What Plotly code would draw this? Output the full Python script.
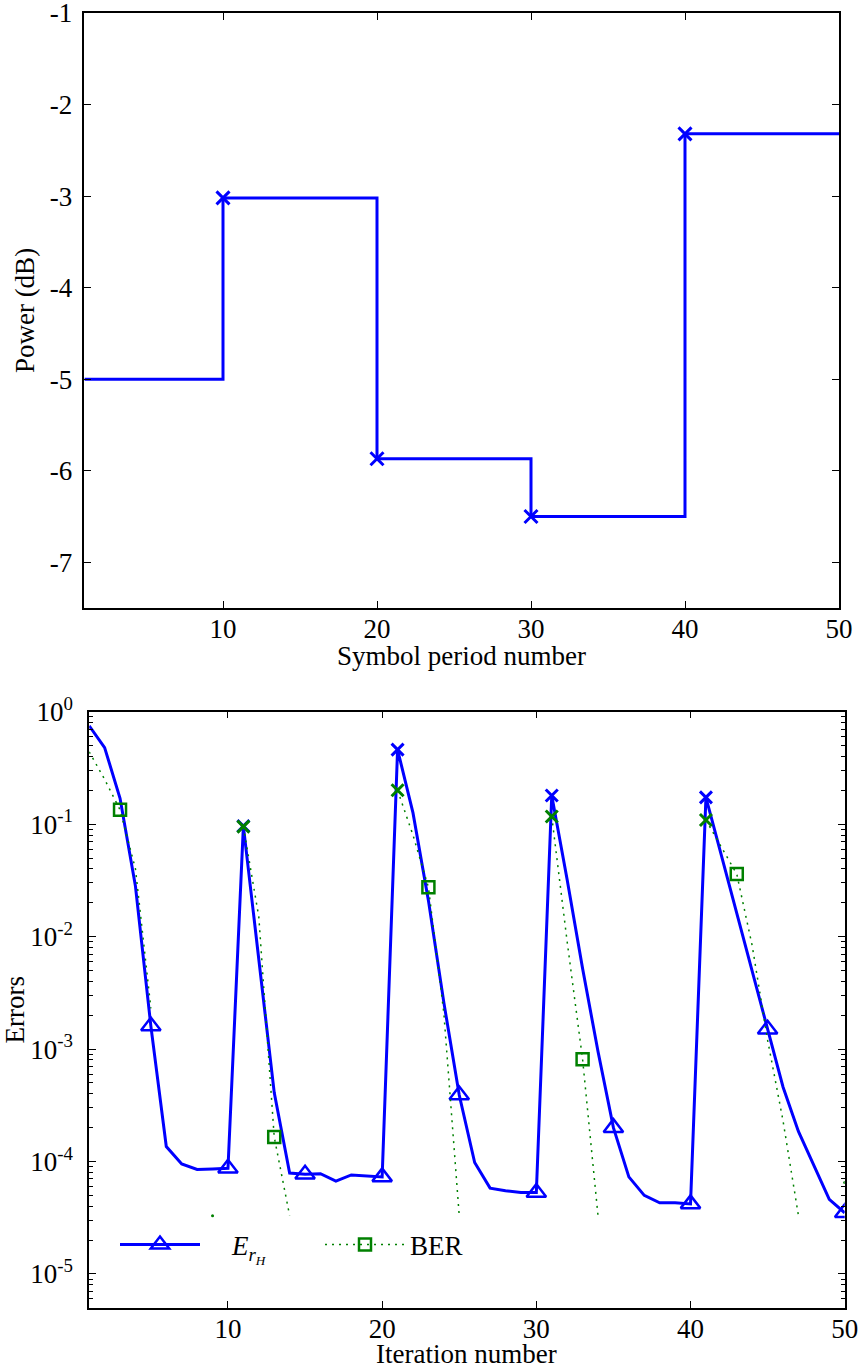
import plotly.graph_objects as go

# ---------------- data: top panel ----------------
symbol_period = [1, 10, 20, 30, 40, 50]
power_db = [-5.0, -3.02, -5.87, -6.5, -2.32, -2.32]
power_marker_periods = [10, 20, 30, 40]
power_yticks = [-7, -6, -5, -4, -3, -2, -1]
power_yticktext = ["-7", "-6", "-5", "-4", "-3", "-2", "-1"]
power_xticks = [10, 20, 30, 40, 50]

# ---------------- data: bottom panel ----------------
iteration = list(range(1, 51))
err_rH = [0.75, 0.48, 0.17, 0.028, 1.6e-3, 1.36e-4, 9.5e-5, 8.5e-5, 8.6e-5, 8.7e-5,
          0.096, 6.6e-3, 4.1e-4, 7.9e-5, 7.7e-5, 7.8e-5, 6.7e-5, 7.6e-5, 7.4e-5, 7.3e-5,
          0.46, 0.126, 0.021, 2.6e-3, 3.9e-4, 9.8e-5, 5.8e-5, 5.5e-5, 5.3e-5, 5.3e-5,
          0.18, 0.032, 5.2e-3, 9.5e-4, 2.0e-4, 7.3e-5, 5.0e-5, 4.3e-5, 4.3e-5, 4.2e-5,
          0.173, 0.053, 0.0165, 5.1e-3, 1.5e-3, 4.6e-4, 1.85e-4, 9.1e-5, 4.6e-5, 3.5e-5]
ber = [0.44, 0.25, 0.134, 0.04, 2.3e-3, 0, 0, 0, 3.3e-5, 0,
       0.095, 0.015, 1.65e-4, 3.3e-5, 0, 0, 0, 0, 0, 0,
       0.2, 0.08, 0.0275, 2.1e-3, 3.3e-5, 0, 0, 0, 0, 0,
       0.117, 9e-3, 8.1e-4, 3.3e-5, 0, 0, 0, 0, 0, 0,
       0.109, 0.063, 0.036, 8.3e-3, 1.2e-3, 2.3e-4, 3.3e-5, 0, 0, 6.5e-5]
triangle_iters = [5, 10, 15, 20, 25, 30, 35, 40, 45, 50]
cross_iters = [11, 21, 31, 41]
square_iters = [3, 13, 23, 33, 43]
err_yticks = [1e-5, 1e-4, 1e-3, 1e-2, 1e-1, 1]
err_yticktext = ["10<sup>-5</sup>", "10<sup>-4</sup>", "10<sup>-3</sup>",
                 "10<sup>-2</sup>", "10<sup>-1</sup>", "10<sup>0</sup>"]
err_xticks = [10, 20, 30, 40, 50]
minor_vals = [m * 10.0 ** e for e in range(-6, 0) for m in range(2, 10)]

BLUE = "rgb(0,0,255)"
GREEN = "rgb(0,128,0)"
FONT = "Liberation Serif"
FS = 27

fig = go.Figure()

# top panel
fig.add_trace(go.Scatter(x=symbol_period, y=power_db, mode="lines", line_shape="hv",
                         line=dict(color=BLUE, width=3), xaxis="x", yaxis="y", showlegend=False))
pm_y = [power_db[symbol_period.index(p)] for p in power_marker_periods]
fig.add_trace(go.Scatter(x=power_marker_periods, y=pm_y, mode="markers",
                         marker=dict(symbol="x-thin", size=13, line=dict(color=BLUE, width=3)),
                         xaxis="x", yaxis="y", showlegend=False))

# bottom panel
def pick(vals, its):
    return [vals[iteration.index(i)] for i in its]

ber_plot = [v if v > 0 else None for v in ber]

fig.add_trace(go.Scatter(x=iteration, y=err_rH, mode="lines", line=dict(color=BLUE, width=3),
                         xaxis="x2", yaxis="y2", showlegend=False))
fig.add_trace(go.Scatter(x=triangle_iters, y=pick(err_rH, triangle_iters), mode="markers",
                         marker=dict(symbol="triangle-up-open", size=17, color=BLUE,
                                     line=dict(color=BLUE, width=2.5)),
                         xaxis="x2", yaxis="y2", showlegend=False))
fig.add_trace(go.Scatter(x=cross_iters, y=pick(err_rH, cross_iters), mode="markers",
                         marker=dict(symbol="x-thin", size=12, line=dict(color=BLUE, width=3)),
                         xaxis="x2", yaxis="y2", showlegend=False))

fig.add_trace(go.Scatter(x=iteration, y=ber_plot, mode="lines",
                         line=dict(color=GREEN, width=1.5, dash="2px,5px"),
                         connectgaps=False, xaxis="x2", yaxis="y2", showlegend=False))
iso_x, iso_y = [], []
for k, v in enumerate(ber):
    left = ber[k - 1] if k > 0 else 0
    right = ber[k + 1] if k < len(ber) - 1 else 0
    if v > 0 and left == 0 and right == 0:
        iso_x.append(iteration[k]); iso_y.append(v)
fig.add_trace(go.Scatter(x=iso_x, y=iso_y, mode="markers", marker=dict(color=GREEN, size=3),
                         xaxis="x2", yaxis="y2", showlegend=False, cliponaxis=True))
fig.add_trace(go.Scatter(x=square_iters, y=pick(ber, square_iters), mode="markers",
                         marker=dict(symbol="square-open", size=12, color=GREEN,
                                     line=dict(color=GREEN, width=2.5)),
                         xaxis="x2", yaxis="y2", showlegend=False))
fig.add_trace(go.Scatter(x=cross_iters, y=pick(ber, cross_iters), mode="markers",
                         marker=dict(symbol="x-thin", size=12, line=dict(color=GREEN, width=3)),
                         xaxis="x2", yaxis="y2", showlegend=False))

# legend entries
fig.add_trace(go.Scatter(x=[None], y=[None], mode="lines+markers",
                         name="\u2002\u2002<i>E</i><sub><i>r</i><sub><i>H</i></sub></sub>",
                         line=dict(color=BLUE, width=3),
                         marker=dict(symbol="triangle-up-open", size=16, color=BLUE,
                                     line=dict(color=BLUE, width=2.5)),
                         xaxis="x2", yaxis="y2"))
fig.add_trace(go.Scatter(x=[None], y=[None], mode="lines+markers", name="BER",
                         line=dict(color=GREEN, width=1.5, dash="2px,5px"),
                         marker=dict(symbol="square-open", size=12, color=GREEN,
                                     line=dict(color=GREEN, width=2.5)),
                         xaxis="x2", yaxis="y2"))

W, H = 860, 1371
axis_common = dict(showline=True, linecolor="black", linewidth=1.5, mirror="ticks",
                   ticks="inside", ticklen=7, tickwidth=1.2, tickcolor="black",
                   showgrid=False, zeroline=False, automargin=False, ticklabeloverflow="allow",
                   tickfont=dict(family=FONT, size=FS, color="black"))

fig.update_layout(
    template="none",
    width=W, height=H, margin=dict(l=0, r=0, t=0, b=0, pad=0), autosize=False,
    paper_bgcolor="white", plot_bgcolor="white",
    font=dict(family=FONT, size=FS, color="black"),
    xaxis=dict(domain=[84.4 / W, 839 / W], anchor="y", range=[1, 50], tickvals=power_xticks,
               ticklabelstandoff=-4, **axis_common),
    yaxis=dict(domain=[1 - 608 / H, 1 - 13 / H], anchor="x", range=[-7.5, -1],
               tickvals=power_yticks, ticktext=power_yticktext,
               title=dict(text="Power (dB)", font=dict(family=FONT, size=FS), standoff=7),
               ticklabelstandoff=5, **axis_common),
    xaxis2=dict(domain=[89.2 / W, 844.7 / W], anchor="y2", range=[1, 50], tickvals=err_xticks,
                ticklabelstandoff=-4, **axis_common),
    yaxis2=dict(domain=[1 - 1307.7 / H, 1 - 711.7 / H], anchor="x2", type="log", range=[-5.3, 0],
                tickvals=err_yticks, ticktext=err_yticktext,
                minor=dict(tickvals=minor_vals, ticks="inside", ticklen=4, tickcolor="black",
                           showgrid=False),
                title=dict(text="Errors", font=dict(family=FONT, size=FS), standoff=6),
                ticklabelstandoff=9, **axis_common),
    legend=dict(orientation="h", x=115 / W, y=1 - 1245 / H, xanchor="left", yanchor="middle",
                bgcolor="rgba(0,0,0,0)", borderwidth=0, font=dict(family=FONT, size=FS),
                entrywidth=110, itemwidth=80, tracegroupgap=0),
    annotations=[
        dict(text="Symbol period number", xref="paper", yref="paper",
             x=(84.4 + 839) / 2 / W, y=1 - 656 / H, xanchor="center", yanchor="middle",
             showarrow=False, font=dict(family=FONT, size=FS, color="black")),
        dict(text="Iteration number", xref="paper", yref="paper",
             x=(89.2 + 844.7) / 2 / W, y=1 - 1354 / H, xanchor="center", yanchor="middle",
             showarrow=False, font=dict(family=FONT, size=FS, color="black")),
    ],
)

fig.write_html("out.html", post_script="document.body.style.margin='0px';",
               config={"displayModeBar": False})
